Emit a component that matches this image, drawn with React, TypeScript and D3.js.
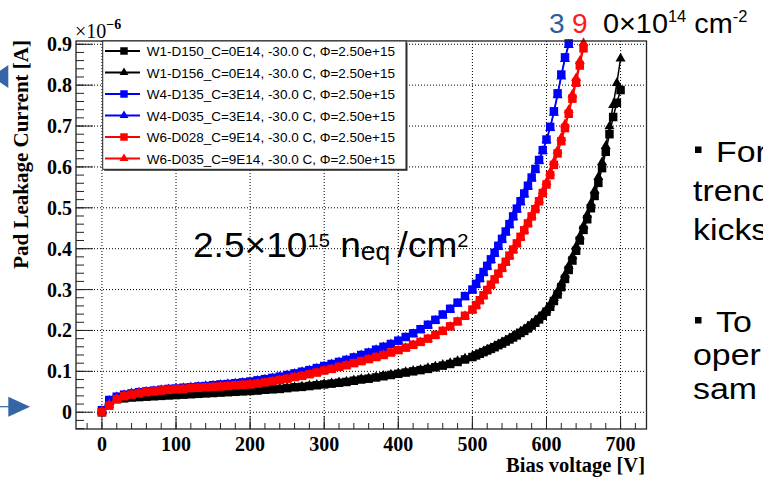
import React from "react";
import * as d3 from "d3";

const VOLTS = [
  0, 10, 20, 30, 40, 50, 60, 70, 80, 90,
  100, 110, 120, 130, 140, 150, 160, 170, 180, 190,
  200, 210, 220, 230, 240, 250, 260, 270, 280, 290,
  300, 310, 320, 330, 340, 350, 360, 370, 380, 390,
  400, 410, 420, 430, 440, 450, 460, 470, 480, 490,
  500, 505, 510, 515, 520, 525, 530, 535, 540, 545,
  550, 555, 560, 565, 570, 575, 580, 585, 590, 595,
  600, 605, 610, 615, 620, 625, 630, 635, 640, 645,
  650, 655, 660, 665, 670, 675, 680, 685, 690, 695, 700,
];

// currents in units of 1e-6 A
const W1_D150 = [
  0.000, 0.027, 0.032, 0.034, 0.036, 0.037, 0.038, 0.039, 0.040, 0.041,
  0.042, 0.043, 0.044, 0.045, 0.046, 0.047, 0.048, 0.049, 0.050, 0.051,
  0.052, 0.053, 0.055, 0.056, 0.057, 0.059, 0.061, 0.062, 0.064, 0.066,
  0.068, 0.070, 0.072, 0.074, 0.077, 0.080, 0.082, 0.085, 0.088, 0.091,
  0.094, 0.097, 0.100, 0.103, 0.106, 0.110, 0.114, 0.118, 0.123, 0.129,
  0.135, 0.139, 0.143, 0.147, 0.151, 0.155, 0.159, 0.164, 0.168, 0.173,
  0.178, 0.183, 0.188, 0.194, 0.199, 0.205, 0.212, 0.219, 0.227, 0.236,
  0.246, 0.258, 0.272, 0.288, 0.306, 0.326, 0.348, 0.371, 0.395, 0.420,
  0.446, 0.472, 0.499, 0.529, 0.561, 0.597, 0.637, 0.680, 0.722, 0.757, 0.788,
];
const W1_D156 = [
  0.002, 0.025, 0.031, 0.034, 0.035, 0.037, 0.038, 0.039, 0.040, 0.041,
  0.042, 0.043, 0.044, 0.045, 0.046, 0.047, 0.048, 0.049, 0.050, 0.051,
  0.052, 0.054, 0.055, 0.056, 0.058, 0.060, 0.061, 0.063, 0.065, 0.067,
  0.069, 0.071, 0.073, 0.075, 0.078, 0.081, 0.083, 0.086, 0.089, 0.092,
  0.095, 0.098, 0.101, 0.104, 0.108, 0.112, 0.116, 0.120, 0.125, 0.131,
  0.137, 0.141, 0.145, 0.149, 0.153, 0.157, 0.162, 0.166, 0.171, 0.176,
  0.181, 0.186, 0.192, 0.197, 0.203, 0.210, 0.217, 0.224, 0.232, 0.241,
  0.251, 0.264, 0.279, 0.296, 0.315, 0.336, 0.358, 0.381, 0.405, 0.430,
  0.456, 0.483, 0.511, 0.542, 0.575, 0.611, 0.651, 0.699, 0.751, 0.805, 0.865,
];
const W4_D135 = [
  0.005, 0.030, 0.038, 0.043, 0.046, 0.049, 0.051, 0.053, 0.055, 0.057,
  0.058, 0.060, 0.061, 0.063, 0.064, 0.066, 0.068, 0.069, 0.071, 0.073,
  0.075, 0.078, 0.081, 0.084, 0.087, 0.091, 0.095, 0.099, 0.103, 0.108,
  0.113, 0.118, 0.123, 0.128, 0.134, 0.140, 0.146, 0.153, 0.160, 0.167,
  0.175, 0.184, 0.193, 0.203, 0.214, 0.226, 0.239, 0.253, 0.268, 0.284,
  0.300, 0.314, 0.328, 0.343, 0.358, 0.374, 0.390, 0.407, 0.424, 0.442,
  0.460, 0.479, 0.498, 0.516, 0.535, 0.554, 0.574, 0.595, 0.617, 0.641,
  0.667, 0.698, 0.736, 0.780, 0.826, 0.868, 0.902,
];
const W4_D035 = [
  0.003, 0.028, 0.037, 0.042, 0.046, 0.048, 0.050, 0.052, 0.054, 0.056,
  0.058, 0.059, 0.061, 0.062, 0.064, 0.065, 0.067, 0.069, 0.070, 0.072,
  0.074, 0.077, 0.080, 0.083, 0.086, 0.090, 0.094, 0.098, 0.102, 0.107,
  0.112, 0.117, 0.122, 0.127, 0.133, 0.139, 0.145, 0.152, 0.159, 0.166,
  0.174, 0.182, 0.191, 0.201, 0.212, 0.224, 0.237, 0.251, 0.266, 0.282,
  0.298, 0.312, 0.326, 0.341, 0.356, 0.372, 0.388, 0.405, 0.422, 0.440,
  0.458, 0.477, 0.496, 0.514, 0.533, 0.552, 0.572, 0.593, 0.615, 0.639,
  0.665, 0.695, 0.732, 0.775, 0.821, 0.864, 0.898,
];
const W6_D028 = [
  0.000, 0.016, 0.032, 0.039, 0.043, 0.046, 0.049, 0.051, 0.053, 0.055,
  0.056, 0.057, 0.059, 0.060, 0.061, 0.062, 0.063, 0.064, 0.066, 0.067,
  0.068, 0.070, 0.073, 0.076, 0.079, 0.082, 0.086, 0.089, 0.093, 0.097,
  0.102, 0.106, 0.111, 0.115, 0.120, 0.125, 0.130, 0.135, 0.140, 0.146,
  0.152, 0.158, 0.165, 0.172, 0.180, 0.189, 0.199, 0.210, 0.222, 0.236,
  0.251, 0.262, 0.274, 0.286, 0.299, 0.312, 0.325, 0.339, 0.353, 0.368,
  0.383, 0.398, 0.413, 0.429, 0.445, 0.462, 0.479, 0.497, 0.516, 0.536,
  0.557, 0.580, 0.605, 0.633, 0.663, 0.695, 0.730, 0.767, 0.806, 0.848, 0.890,
];
const W6_D035 = [
  0.002, 0.018, 0.033, 0.040, 0.044, 0.047, 0.049, 0.051, 0.053, 0.054,
  0.056, 0.057, 0.058, 0.059, 0.060, 0.061, 0.063, 0.064, 0.065, 0.066,
  0.068, 0.070, 0.072, 0.075, 0.078, 0.081, 0.085, 0.088, 0.092, 0.096,
  0.101, 0.105, 0.110, 0.114, 0.119, 0.124, 0.129, 0.134, 0.139, 0.145,
  0.151, 0.157, 0.164, 0.171, 0.179, 0.188, 0.198, 0.209, 0.221, 0.235,
  0.250, 0.261, 0.273, 0.285, 0.298, 0.311, 0.324, 0.338, 0.352, 0.367,
  0.382, 0.397, 0.412, 0.428, 0.445, 0.462, 0.480, 0.499, 0.519, 0.540,
  0.562, 0.586, 0.612, 0.640, 0.671, 0.704, 0.739, 0.777, 0.817, 0.859, 0.903,
];

const SERIES_NAMES = [
  "W1-D150_C=0E14, -30.0 C, Φ=2.50e+15",
  "W1-D156_C=0E14, -30.0 C, Φ=2.50e+15",
  "W4-D135_C=3E14, -30.0 C, Φ=2.50e+15",
  "W4-D035_C=3E14, -30.0 C, Φ=2.50e+15",
  "W6-D028_C=9E14, -30.0 C, Φ=2.50e+15",
  "W6-D035_C=9E14, -30.0 C, Φ=2.50e+15",
];
const SERIES_VALUES = [W1_D150, W1_D156, W4_D135, W4_D035, W6_D028, W6_D035];
const SERIES_COLORS = ["#000000", "#000000", "#0000ff", "#0000ff", "#ff0000", "#ff0000"];
const SERIES_MARKERS = ["square", "triangle", "square", "triangle", "square", "triangle"];

const X_TICKS = [0, 100, 200, 300, 400, 500, 600, 700];
const Y_TICKS = [0, 0.1, 0.2, 0.3, 0.4, 0.5, 0.6, 0.7, 0.8, 0.9];
const Y_TICK_LABELS = ["0", "0.1", "0.2", "0.3", "0.4", "0.5", "0.6", "0.7", "0.8", "0.9"];

const SIDE_TEXT_TOP = ["For", "trend", "kicks"];
const SIDE_TEXT_BOTTOM = ["To", "oper", "sam"];

const W = 763;
const H = 483;
const L = 76, R = 646.5, T = 41, B = 429;

const x = d3.scaleLinear().domain([-35, 735]).range([L, R]);
const y = d3.scaleLinear().domain([-0.041, 0.908]).range([B, T]);

const squarePath = d3.symbol(d3.symbolSquare, 72)();
const trianglePath = d3.symbol(d3.symbolTriangle, 44)();
const legSquare = d3.symbol(d3.symbolSquare, 56)();
const legTriangle = d3.symbol(d3.symbolTriangle, 34)();

const serif = "'Liberation Serif', 'DejaVu Serif', serif";
const sans = "'Liberation Sans', Arial, sans-serif";

export default function App() {
  const line = d3
    .line<[number, number]>()
    .x((d) => x(d[0]))
    .y((d) => y(d[1]));

  const xMinor = d3.range(-20, 735, 20);
  const yMinor = d3.range(-0.04, 0.91, 0.02);

  const legendX0 = 102.7, legendX1 = 406, legendY0 = 41, legendY1 = 169.3;
  const legendRow = (i: number) => 51 + i * 21.5;
  const sx = 1.13;

  return (
    <svg
      width={W}
      height={H}
      style={{ position: "absolute", left: 0, top: 0, background: "#fff" }}
    >
      <rect x={0} y={0} width={W} height={H} fill="#fff" />

      {/* grid */}
      <g stroke="#000" strokeWidth={1} strokeDasharray="1 2">
        {X_TICKS.map((t) => (
          <line key={"gx" + t} x1={x(t)} x2={x(t)} y1={T} y2={B} />
        ))}
        {Y_TICKS.map((t) => (
          <line key={"gy" + t} x1={L} x2={R} y1={y(t)} y2={y(t)} />
        ))}
      </g>

      {/* series */}
      {SERIES_VALUES.map((vals, si) => {
        const pts: [number, number][] = vals.map((v, i) => [VOLTS[i], v]);
        const col = SERIES_COLORS[si];
        const path = SERIES_MARKERS[si] === "square" ? squarePath : trianglePath;
        return (
          <g key={"s" + si}>
            <path d={line(pts) || ""} fill="none" stroke={col} strokeWidth={1.5} />
            {pts.map((p, i) => (
              <path
                key={i}
                d={path || ""}
                transform={`translate(${x(p[0])},${y(p[1])})`}
                fill={col}
              />
            ))}
          </g>
        );
      })}

      {/* frame */}
      <rect x={L} y={T} width={R - L} height={B - T} fill="none" stroke="#222" strokeWidth={1.3} />

      {/* ticks */}
      <g stroke="#222" strokeWidth={1}>
        {yMinor.map((t, i) => (
          <line key={"ym" + i} x1={L} x2={L + 8} y1={y(t)} y2={y(t)} />
        ))}
        {Y_TICKS.map((t) => (
          <line key={"yM" + t} x1={L} x2={L + 17} y1={y(t)} y2={y(t)} />
        ))}
        {xMinor.map((t, i) => (
          <line key={"xm" + i} x1={x(t)} x2={x(t)} y1={B} y2={B - 6} />
        ))}
        {X_TICKS.map((t) => (
          <line key={"xM" + t} x1={x(t)} x2={x(t)} y1={B} y2={B - 13} />
        ))}
      </g>

      {/* tick labels */}
      <g fontFamily={serif} fontWeight="bold" fontSize={20} fill="#000">
        {Y_TICKS.map((t, i) => (
          <text key={"yl" + t} x={72} y={y(t) + 7} textAnchor="end">
            {Y_TICK_LABELS[i]}
          </text>
        ))}
        {X_TICKS.map((t) => (
          <text key={"xl" + t} x={x(t)} y={450.5} textAnchor="middle">
            {t}
          </text>
        ))}
        <text x={645} y={471.5} textAnchor="end" fontSize={20.5}>Bias voltage [V]</text>
        <text transform="translate(28,40) rotate(-90)" textAnchor="end" fontSize={21}>
          Pad Leakage Current [A]
        </text>
      </g>
      <text x={75} y={38} fontFamily={serif} fontSize={20} fill="#000">
        ×10
        <tspan dy={-9} fontSize={14} fontWeight="bold">−6</tspan>
      </text>

      {/* legend */}
      <rect x={legendX0 + 1.5} y={legendY0 + 1.5} width={legendX1 - legendX0} height={legendY1 - legendY0} fill="#333" />
      <rect x={legendX0} y={legendY0} width={legendX1 - legendX0} height={legendY1 - legendY0} fill="#fff" stroke="#222" strokeWidth={1} />
      {SERIES_NAMES.map((name, i) => {
        const cy = legendRow(i);
        const col = SERIES_COLORS[i];
        const path = SERIES_MARKERS[i] === "square" ? legSquare : legTriangle;
        return (
          <g key={"lg" + i}>
            <line x1={105} x2={140} y1={cy} y2={cy} stroke={col} strokeWidth={2} />
            <path d={path || ""} transform={`translate(124,${cy})`} fill={col} />
            <text x={146.7} y={cy + 5} fontFamily={sans} fontSize={13.5} fill="#000">
              {name}
            </text>
          </g>
        );
      })}

      {/* annotations */}
      <g transform="translate(193,257) scale(1.06,1)">
        <text x={0} y={0} fontFamily={sans} fontSize={35} fill="#000">
          2.5×10
          <tspan dy={-10.5} fontSize={19}>15</tspan>
          <tspan dy={10.5}> n</tspan>
          <tspan dy={2.5} fontSize={25}>eq </tspan>
          <tspan dy={-2.5}>/cm</tspan>
          <tspan dy={-10.5} fontSize={19}>2</tspan>
        </text>
      </g>
      <g fontFamily={sans} fontSize={28}>
        <text x={549} y={33} fill="#2a5ea0">3</text>
        <text x={572} y={33} fill="#ff1a1a">9</text>
        <g transform="translate(603,33) scale(1.03,1)">
          <text x={0} y={0} fill="#000">
            0×10
            <tspan dy={-11} fontSize={16}>14</tspan>
            <tspan dy={11}> cm</tspan>
            <tspan dy={-11} fontSize={16}>-2</tspan>
          </text>
        </g>
      </g>

      <rect x={695} y={146.5} width={6.5} height={6.5} fill="#000" />
      <rect x={695} y={317} width={6.5} height={6.5} fill="#000" />
      <g transform={`translate(693,0) scale(${sx},1)`} fontFamily={sans} fontSize={30} fill="#000">
        <text x={23 / sx} y={162}>{SIDE_TEXT_TOP[0]}</text>
        <text x={0} y={201}>{SIDE_TEXT_TOP[1]}</text>
        <text x={0} y={240}>{SIDE_TEXT_TOP[2]}</text>
        <text x={23 / sx} y={332}>{SIDE_TEXT_BOTTOM[0]}</text>
        <text x={0} y={365}>{SIDE_TEXT_BOTTOM[1]}</text>
        <text x={0} y={399}>{SIDE_TEXT_BOTTOM[2]}</text>
      </g>

      {/* blue arrows */}
      <path d="M8.3,65 L8.3,88 L-8,76.5 Z" fill="#3465a4" />
      <line x1={0} x2={9} y1={406.7} y2={406.7} stroke="#3465a4" strokeWidth={1.2} />
      <path d="M8.3,396.7 L8.3,416.7 L30,406.7 Z" fill="#3465a4" />
    </svg>
  );
}
